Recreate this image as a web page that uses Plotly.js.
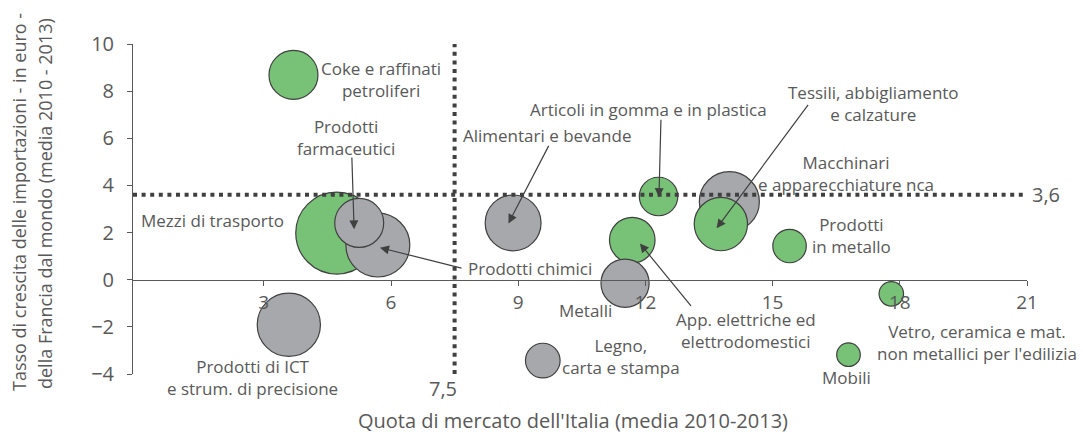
<!DOCTYPE html>
<html>
<head>
<meta charset="utf-8">
<script src="https://cdn.plot.ly/plotly-3.0.1.min.js"></script>
<style>
  html, body { margin: 0; padding: 0; background: #fff; }
  #grafico { width: 1083px; height: 434px; }
</style>
</head>
<body>
<div id="grafico"></div>
<script>
// settori, quota di mercato dell'Italia (x), crescita import Francia (y), peso (dimensione bolla)
const settori = ["Mezzi di trasporto", "Prodotti chimici", "Prodotti farmaceutici",
    "Macchinari e apparecchiature nca", "Tessili, abbigliamento e calzature",
    "Coke e raffinati petroliferi", "Prodotti di ICT e strum. di precisione",
    "Alimentari e bevande", "Articoli in gomma e in plastica",
    "App. elettriche ed elettrodomestici", "Metalli", "Prodotti in metallo",
    "Legno, carta e stampa", "Vetro, ceramica e mat. non metallici per l'edilizia", "Mobili"];
const quota = [4.72, 5.69, 5.25, 13.98, 13.78, 3.70, 3.59, 8.88, 12.31, 11.69, 11.52, 15.40, 9.58, 17.80, 16.79];
const crescita = [1.98, 1.47, 2.41, 3.31, 2.36, 8.69, -1.91, 2.41, 3.53, 1.68, -0.15, 1.43, -3.43, -0.60, -3.18];
const peso = [16.8, 10.2, 6.0, 9.0, 7.1, 6.0, 10.0, 7.8, 3.7, 5.2, 5.8, 2.8, 3.0, 1.5, 1.4];
const gruppo = ["v", "g", "g", "g", "v", "v", "g", "g", "v", "v", "g", "v", "g", "v", "v"];

const quotaMedia = 7.5;
const crescitaMedia = 3.6;

const xTicks = [3, 6, 9, 12, 15, 18, 21];
const yTicks = [-4, -2, 0, 2, 4, 6, 8, 10];

const colori = { v: "#77c276", g: "#a7a8ac" };
const testo = "#595959";
const scuro = "#404040";

// area del grafico in pixel
const L = 133, R = 1027, T = 44, B = 374;
function px2paperX(px) { return (px - L) / (R - L); }
function px2paperY(py) { return (B - py) / (B - T); }

// etichette: testo, centro in pixel
const etichette = [
    ["Coke e raffinati<br>petroliferi", 381, 79.7],
    ["Prodotti<br>farmaceutici", 346.3, 137],
    ["Mezzi di trasporto", 212, 220.7],
    ["Prodotti chimici", 530, 268.3],
    ["Prodotti di ICT<br>e strum. di precisione", 252, 377.5],
    ["Alimentari e bevande", 547, 135],
    ["Articoli in gomma e in plastica", 648, 109.3],
    ["Tessili, abbigliamento<br>e calzature", 873.5, 103],
    ["Macchinari<br>e apparecchiature nca", 846, 173.5],
    ["Prodotti<br>in metallo", 851, 235],
    ["App. elettriche ed<br>elettrodomestici", 745.7, 330],
    ["Metalli", 585.5, 310],
    ["Legno,<br>carta e stampa", 621, 356.2],
    ["Vetro, ceramica e mat.<br>non metallici per l'edilizia", 977.3, 342.5],
    ["Mobili", 846.7, 377.7]
];

// frecce: punta (dati), coda (offset pixel)
const frecce = [
    [5.13, 2.14, -2.3, -73.3],
    [5.74, 1.36, 83, 20.8],
    [8.77, 2.39, 41, -79],
    [12.32, 3.50, 2, -79],
    [13.68, 2.18, 92.6, -125],
    [11.87, 1.54, 52.3, 64]
];

var annotations = [];
etichette.forEach(function(e) {
    annotations.push({
        xref: "paper", yref: "paper",
        x: px2paperX(e[1]), y: px2paperY(e[2]),
        text: e[0], showarrow: false,
        xanchor: "center", yanchor: "middle", align: "center",
        font: { size: 17, color: testo }
    });
});

frecce.forEach(function(f) {
    annotations.push({
        xref: "x", yref: "y", x: f[0], y: f[1],
        ax: f[2], ay: f[3], text: "",
        showarrow: true, arrowhead: 2, arrowsize: 1.5, arrowwidth: 1.2,
        arrowcolor: scuro, standoff: 0
    });
});

// valori medi
annotations.push({
    xref: "paper", yref: "paper", x: px2paperX(443), y: px2paperY(388),
    text: String(quotaMedia).replace(".", ","), showarrow: false,
    xanchor: "center", yanchor: "middle", font: { size: 20, color: testo }
});
annotations.push({
    xref: "paper", yref: "y", x: px2paperX(1046), y: crescitaMedia,
    text: String(crescitaMedia).replace(".", ","), showarrow: false,
    xanchor: "center", yanchor: "middle", font: { size: 20, color: testo }
});

// titoli assi
annotations.push({
    xref: "paper", yref: "paper", x: px2paperX(573), y: px2paperY(420),
    text: "Quota di mercato dell'Italia (media 2010-2013)", showarrow: false,
    xanchor: "center", yanchor: "middle", font: { size: 20, color: testo }
});
annotations.push({
    xref: "paper", yref: "paper", x: px2paperX(19), y: px2paperY(202),
    text: "Tasso di crescita delle importazioni - in euro -", showarrow: false,
    textangle: -90, xanchor: "center", yanchor: "middle", font: { size: 18, color: testo }
});
annotations.push({
    xref: "paper", yref: "paper", x: px2paperX(45), y: px2paperY(204),
    text: "della Francia dal mondo (media 2010 - 2013)", showarrow: false,
    textangle: -90, xanchor: "center", yanchor: "middle", font: { size: 18, color: testo }
});

var data = [{
    x: quota,
    y: crescita,
    text: settori,
    mode: "markers",
    type: "scatter",
    hoverinfo: "text",
    cliponaxis: false,
    marker: {
        size: peso,
        sizemode: "area",
        sizeref: 0.005,
        color: gruppo.map(function(g) { return colori[g]; }),
        opacity: 1,
        line: { color: scuro, width: 1.2 }
    }
}];

var xMin = -0.085;

var layout = {
    width: 1083,
    height: 434,
    autosize: false,
    margin: { l: L, r: 1083 - R, t: T, b: 434 - B, pad: 0 },
    paper_bgcolor: "#ffffff",
    plot_bgcolor: "#ffffff",
    font: { family: "Open Sans, sans-serif", color: testo },
    showlegend: false,
    xaxis: {
        range: [xMin, 21],
        tickvals: xTicks,
        ticks: "outside", ticklen: 5, tickcolor: testo, tickwidth: 1,
        showline: true, linecolor: testo, linewidth: 1,
        showgrid: false, zeroline: false,
        anchor: "free",
        position: (0 - (-4)) / (10 - (-4)),
        ticklabelstandoff: 0,
        tickfont: { size: 19, color: testo }
    },
    yaxis: {
        range: [-4, 10],
        tickvals: yTicks,
        ticks: "outside", ticklen: 5, tickcolor: testo, tickwidth: 1,
        showline: true, linecolor: testo, linewidth: 1,
        showgrid: false, zeroline: false,
        ticklabelstandoff: 9,
        tickfont: { size: 20, color: testo }
    },
    shapes: [
        {
            type: "line", layer: "above", xref: "x", yref: "y",
            x0: quotaMedia, x1: quotaMedia, y0: -4, y1: 10,
            line: { color: scuro, width: 4, dash: "4px,4.6px" }
        },
        {
            type: "line", layer: "above", xref: "x", yref: "y",
            x0: xMin, x1: 20.9, y0: crescitaMedia, y1: crescitaMedia,
            line: { color: scuro, width: 4, dash: "4px,4.6px" }
        }
    ],
    annotations: annotations
};

var config = { displayModeBar: false, staticPlot: true };
Plotly.newPlot("grafico", data, layout, config);
</script>
</body>
</html>
